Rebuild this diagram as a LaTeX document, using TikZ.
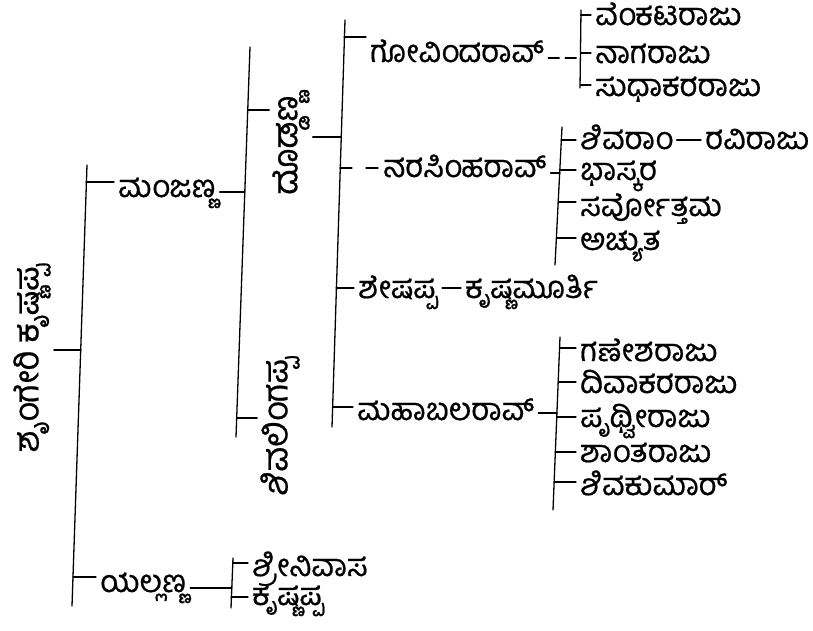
\documentclass[tikz,border=0pt]{standalone}
\usepackage{fontspec}
\newfontfamily\kan[Script=Kannada, FakeBold=0.6]{Hind Mysuru}
\usetikzlibrary{calc}

\begin{document}
\begin{tikzpicture}[x=1pt, y=-1pt, line cap=round]

% ------------------------------------------------
% Styles
% ------------------------------------------------
\tikzset{
    person/.style={font=\kan\fontsize{31}{36}\selectfont, inner sep=4pt, anchor=base west},
    vperson/.style={font=\kan\fontsize{34}{38}\selectfont, inner sep=3pt, rotate=90},
    link/.style={line width=1.3pt, black},
    gapline/.style={link, dash pattern=on 11pt off 6pt},
}

\useasboundingbox (0,0) rectangle (813,630);

% ------------------------------------------------
% Names
% ------------------------------------------------
\node[vperson] (root) at (32,358) {ಶೃಂಗೇರಿ ಕೃಷ್ಣಪ್ಪ};

\node[person] (manj) at (114,197) {ಮಂಜಣ್ಣ};
\node[person] (yall) at (96,592)  {ಯಲ್ಲಣ್ಣ};

\node[vperson] (dodd) at (291,145) {ದೊಡ್ಡಣ್ಣ};
\node[vperson] (shli) at (280,426) {ಶಿವಲಿಂಗಪ್ಪ};

\node[person] (govi)  at (366,62)  {ಗೋವಿಂದರಾವ್};
\node[person] (nara)  at (379,177) {ನರಸಿಂಹರಾವ್};
\node[person] (shesh) at (354,298) {ಶೇಷಪ್ಪ};
\node[person] (krmu)  at (461,298) {ಕೃಷ್ಣಮೂರ್ತಿ};
\node[person] (maha)  at (353,420) {ಮಹಾಬಲರಾವ್};

\node[person] (venk) at (591,25) {ವೆಂಕಟರಾಜು};
\node[person] (naga) at (591,63) {ನಾಗರಾಜು};
\node[person] (sudh) at (591,96) {ಸುಧಾಕರರಾಜು};

\node[person] (shiv) at (576,149) {ಶಿವರಾಂ};
\node[person] (ravi) at (701,149) {ರವಿರಾಜು};
\node[person] (bhas) at (576,180) {ಭಾಸ್ಕರ};
\node[person] (sarv) at (576,216) {ಸರ್ವೋತ್ತಮ};
\node[person] (achy) at (576,250) {ಅಚ್ಯುತ};

\node[person] (gane) at (576,361) {ಗಣೇಶರಾಜು};
\node[person] (diva) at (576,393) {ದಿವಾಕರರಾಜು};
\node[person] (prth) at (576,427) {ಪೃಥ್ವೀರಾಜು};
\node[person] (shan) at (576,462) {ಶಾಂತರಾಜು};
\node[person] (shku) at (576,495) {ಶಿವಕುಮಾರ್};

\node[person] (shri) at (248,576) {ಶ್ರೀನಿವಾಸ};
\node[person] (krpp) at (248,605) {ಕೃಷ್ಣಪ್ಪ};

% ------------------------------------------------
% Bars
% ------------------------------------------------
\coordinate (rbT) at (87,165);  \coordinate (rbB) at (72,606);
\coordinate (mbT) at (250,47);  \coordinate (mbB) at (236,437);
\coordinate (dbT) at (345,20);  \coordinate (dbB) at (332,427);
\coordinate (gbT) at (581,10);  \coordinate (gbB) at (580,88);
\coordinate (nbT) at (562,127); \coordinate (nbB) at (555,265);
\coordinate (hbT) at (560,337); \coordinate (hbB) at (553,510);
\coordinate (ybT) at (233,558); \coordinate (ybB) at (231,608);

\foreach \a/\b in {rbT/rbB, mbT/mbB, dbT/dbB, gbT/gbB, nbT/nbB, hbT/hbB, ybT/ybB}
    \draw[link] (\a) -- (\b);

% ------------------------------------------------
% Root and his sons
% ------------------------------------------------
\coordinate (rb0) at (81,350);
\draw[link] (root.south |- rb0) -- (rb0);

\coordinate (rb1) at (86,182);
\draw[link] (rb1) -- (rb1 -| manj.west);
\coordinate (rb2) at (73,577);
\draw[link] (rb2) -- (rb2 -| yall.west);

% manjanna
\coordinate (mb0) at (245,192);
\draw[link] (manj.east |- mb0) -- (mb0);
\coordinate (mb1) at (248,110);
\draw[link] (mb1) -- (mb1 -| dodd.north);
\coordinate (mb2) at (237,418);
\draw[link] (mb2) -- (mb2 -| shli.north);

% doddanna
\coordinate (db0) at (341,137);
\draw[link] (dodd.south |- db0) -- (db0);
\coordinate (db1) at (344,37);
\draw[link] (db1) -- (db1 -| govi.west);
\coordinate (db2) at (340,168);
\draw[gapline, dash pattern=on 12pt off 14pt] (db2) -- (db2 -| nara.west);
\coordinate (db3) at (336,288);
\draw[link] (db3) -- (db3 -| shesh.west);
\draw[link] (shesh.east |- db3) -- (db3 -| krmu.west);
\coordinate (db4) at (333,407);
\draw[link] (db4) -- (db4 -| maha.west);

% govindarav
\coordinate (gb0) at (580,58);
\draw[gapline] (govi.east |- gb0) -- (gb0);
\foreach \c/\y/\n in {gb1/15/venk, gb2/53/naga, gb3/85/sudh}{
    \coordinate (\c) at (580.5,\y);
    \draw[link] (\c) -- (\c -| \n.west);
}

% narasimharav
\coordinate (nb0) at (560,173);
\draw[link] (nara.east |- nb0) -- (nb0);
\foreach \c/\x/\y/\n in {nb1/561.3/140/shiv, nb2/559.8/170/bhas, nb3/558.2/202/sarv, nb4/556.4/238/achy}{
    \coordinate (\c) at (\x,\y);
    \draw[link] (\c) -- (\c -| \n.west);
}
\draw[link] (shiv.east |- nb1) -- (nb1 -| ravi.west);

% mahabalarav
\coordinate (hb0) at (557,413);
\draw[link] (maha.east |- hb0) -- (hb0);
\foreach \c/\x/\y/\n in {hb1/559.6/348/gane, hb2/558.2/382/diva, hb3/556.8/417/prth, hb4/555.3/452/shan, hb5/554.1/482/shku}{
    \coordinate (\c) at (\x,\y);
    \draw[link] (\c) -- (\c -| \n.west);
}

% yallanna
\coordinate (yb0) at (232,588);
\draw[link] (yall.east |- yb0) -- (yb0);
\coordinate (yb1) at (233,563);
\draw[link] (yb1) -- (yb1 -| shri.west);
\coordinate (yb2) at (231,597);
\draw[link] (yb2) -- (yb2 -| krpp.west);

\end{tikzpicture}
\end{document}
